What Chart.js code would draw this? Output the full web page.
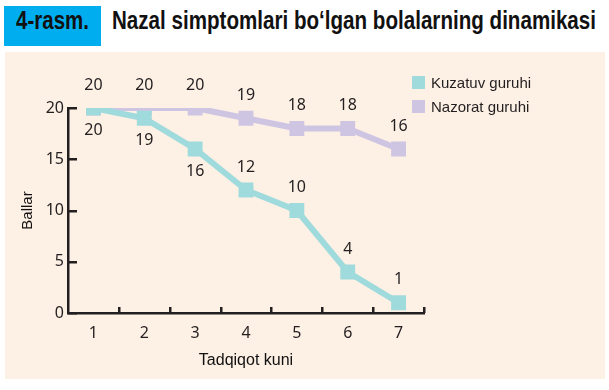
<!DOCTYPE html>
<html>
<head>
<meta charset="utf-8">
<script src="https://cdn.jsdelivr.net/npm/chart.js@4.4.0/dist/chart.umd.min.js"></script>
<style>
  body { margin: 0; background: #fff; width: 609px; height: 390px; position: relative; overflow: hidden; }
  #tag { position: absolute; left: 4px; top: 6px; width: 97px; height: 40px; background: #00aeef; }
  .head { position: absolute; top: 6px; height: 40px; line-height: 40px; transform-origin: 0 50%;
          font: bold 25px "Liberation Sans", sans-serif; color: #111; white-space: nowrap; }
  #panel { position: absolute; left: 5px; top: 52px; width: 600px; height: 327px; background: #fdf0e4; }
  #legend { position: absolute; left: 407px; top: 19px; font: 15px "Liberation Sans", sans-serif; color: #231f20; }
  #legend div { height: 24px; line-height: 24px; white-space: nowrap; }
  #legend span { display: inline-block; width: 13px; height: 13px; margin-right: 6px; vertical-align: -1px; }
</style>
</head>
<body>
<div id="tag"></div>
<div class="head" id="tagText" data-w="73" style="left:16px">4-rasm.</div>
<div class="head" id="title" data-w="484" style="left:112px">Nazal simptomlari bo‘lgan bolalarning dinamikasi</div>
<div id="panel">
  <canvas id="myChart" width="600" height="327"></canvas>
  <div id="legend"></div>
</div>
<script>
const days = ['1', '2', '3', '4', '5', '6', '7'];
const kuzatuv = [20, 19, 16, 12, 10, 4, 1];
const nazorat = [20, 20, 20, 19, 18, 18, 16];
const seriesNames = ['Kuzatuv guruhi', 'Nazorat guruhi'];
const yTicks = [0, 5, 10, 15, 20];

const ink = '#231f20';
const cyan = '#9fdadc';
const lilac = '#cec5e3';

// squeeze the bold heading like a narrow font
document.querySelectorAll('.head').forEach(el => {
  const w = el.getBoundingClientRect().width;
  el.style.transform = 'scaleX(' + (el.dataset.w / w) + ')';
});

// inward tick marks + value labels above / below the points
const extras = {
  id: 'extras',
  afterDraw(chart) {
    const ctx = chart.ctx;
    const area = chart.chartArea;
    const ys = chart.scales.y;

    ctx.save();
    ctx.fillStyle = ink;
    const step = (area.right - area.left) / days.length;
    for (let i = 1; i <= days.length; i++) {
      const x = area.left + i * step;
      ctx.fillRect(Math.round(x) - 1, area.bottom - 6, 2.5, 6);
    }
    yTicks.forEach(v => {
      const y = ys.getPixelForValue(v);
      ctx.fillRect(area.left, Math.round(y) - 1, 9, 2.5);
    });

    ctx.font = '16px "Noto Sans", sans-serif';
    ctx.textAlign = 'center';
    ctx.textBaseline = 'middle';
    chart.data.datasets.forEach((ds, i) => {
      chart.getDatasetMeta(i).data.forEach((pt, j) => {
        const dy = ds.labelSide[j] === 'below' ? 22 : -23;
        ctx.fillText(ds.data[j], pt.x, pt.y + dy);
      });
    });
    ctx.restore();
  }
};

let myChart = document.getElementById('myChart').getContext('2d');
let chart = new Chart(myChart, {
  type: 'line',
  data: {
    labels: days,
    datasets: [{
      label: seriesNames[0],
      data: kuzatuv,
      borderColor: cyan,
      backgroundColor: cyan,
      borderWidth: 6,
      pointStyle: 'rect',
      pointRadius: 10.5,
      pointHoverRadius: 10.5,
      pointBorderWidth: 0,
      labelSide: ['below', 'below', 'below', 'above', 'above', 'above', 'above']
    }, {
      label: seriesNames[1],
      data: nazorat,
      borderColor: lilac,
      backgroundColor: lilac,
      borderWidth: 6,
      pointStyle: 'rect',
      pointRadius: 10.5,
      pointHoverRadius: 10.5,
      pointBorderWidth: 0,
      labelSide: ['above', 'above', 'above', 'above', 'above', 'above', 'above']
    }]
  },
  options: {
    responsive: false,
    animation: false,
    layout: { padding: { top: 56, right: 181, left: 0, bottom: 0 } },
    plugins: {
      legend: { display: false },
      tooltip: { enabled: false }
    },
    scales: {
      x: {
        offset: true,
        grid: { display: false, drawTicks: false },
        border: { color: ink, width: 2.5 },
        ticks: { color: ink, padding: 11, font: { family: '"Noto Sans", sans-serif', size: 16 } },
        title: { display: true, text: 'Tadqiqot kuni', color: '#111', padding: { top: 0, bottom: 9 },
                 font: { family: '"Liberation Sans", sans-serif', size: 16 } },
        afterFit: (s) => { s.height = 66; }
      },
      y: {
        min: 0,
        max: 20,
        afterBuildTicks: (s) => { s.ticks = yTicks.map(v => ({ value: v })); },
        grid: { display: false, drawTicks: false },
        border: { color: ink, width: 2.5 },
        ticks: { color: ink, padding: 4, font: { family: '"Noto Sans", sans-serif', size: 16 } },
        title: { display: true, text: 'Ballar', color: '#111', padding: { top: 14, bottom: 0 },
                 font: { family: '"Liberation Sans", sans-serif', size: 15 } },
        afterFit: (s) => { s.width = 63; }
      }
    }
  },
  plugins: [extras]
});

// legend as html
const legendColors = [cyan, lilac];
document.getElementById('legend').innerHTML = seriesNames.map((n, i) =>
  '<div><span style="background:' + legendColors[i] + '"></span>' + n + '</div>').join('');
</script>
</body>
</html>
